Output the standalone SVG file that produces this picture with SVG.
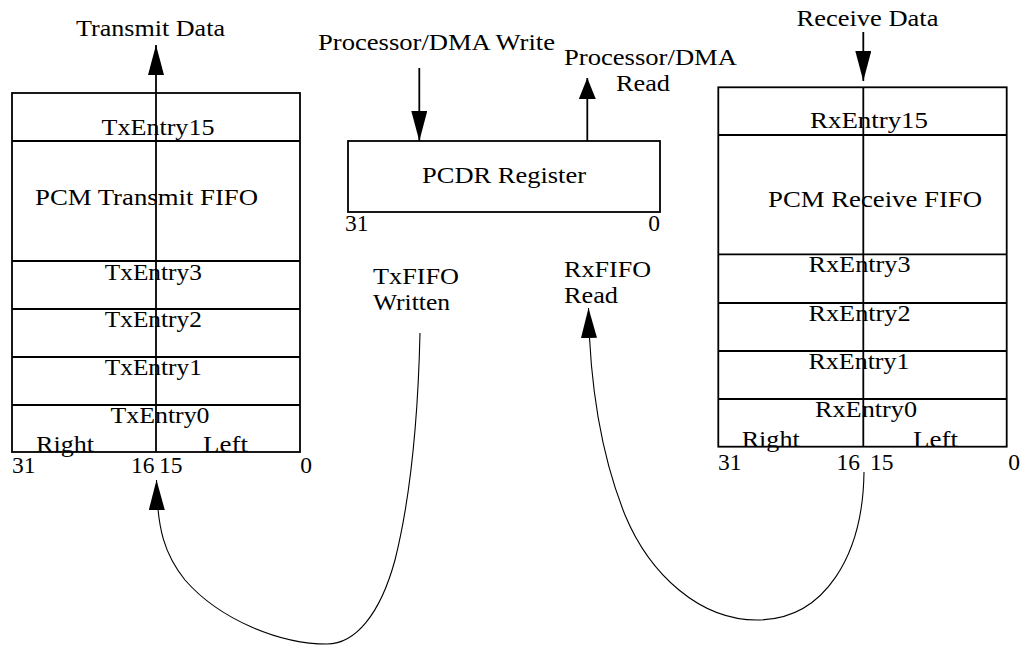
<svg xmlns="http://www.w3.org/2000/svg" width="1023" height="645" viewBox="0 0 1023 645">
<style>
text{font-family:"Liberation Serif","Times New Roman",serif;font-size:23.5px;fill:#000}
.m{text-anchor:middle}
.e{text-anchor:end}
.box{fill:none;stroke:#000;stroke-width:1.8}
.ln{fill:none;stroke:#000;stroke-width:1.8}
.cv{fill:none;stroke:#000;stroke-width:1.1}
</style>
<defs>
<marker id="ah" markerUnits="userSpaceOnUse" viewBox="0 0 30 16" markerWidth="30" markerHeight="16" refX="30" refY="8" orient="auto"><path d="M0,0 L30,8 L0,16 z" fill="#000"/></marker>
<marker id="ahs" markerUnits="userSpaceOnUse" viewBox="0 0 21 17" markerWidth="21" markerHeight="17" refX="21" refY="8.5" orient="auto"><path d="M0,0 L21,8.5 L0,17 z" fill="#000"/></marker>
</defs>
<rect width="1023" height="645" fill="#fff"/>

<g id="tx-fifo">
<rect class="box" x="12" y="93" width="288" height="359"/>
<line class="box" x1="12" y1="141" x2="300" y2="141"/>
<line class="box" x1="12" y1="261" x2="300" y2="261"/>
<line class="box" x1="12" y1="309" x2="300" y2="309"/>
<line class="box" x1="12" y1="357" x2="300" y2="357"/>
<line class="box" x1="12" y1="405" x2="300" y2="405"/>
<text class="m" x="150.5" y="36" textLength="149" lengthAdjust="spacingAndGlyphs">Transmit Data</text>
<text class="m" x="158" y="135" textLength="113" lengthAdjust="spacingAndGlyphs">TxEntry15</text>
<text x="35" y="205" textLength="223" lengthAdjust="spacingAndGlyphs">PCM Transmit FIFO</text>
<text class="m" x="153.3" y="280" textLength="97" lengthAdjust="spacingAndGlyphs">TxEntry3</text>
<text class="m" x="153.3" y="327" textLength="97" lengthAdjust="spacingAndGlyphs">TxEntry2</text>
<text class="m" x="153.3" y="375" textLength="97" lengthAdjust="spacingAndGlyphs">TxEntry1</text>
<text class="m" x="160" y="423" textLength="99" lengthAdjust="spacingAndGlyphs">TxEntry0</text>
<text x="36" y="452" textLength="58" lengthAdjust="spacingAndGlyphs">Right</text>
<text x="203" y="452" textLength="45" lengthAdjust="spacingAndGlyphs">Left</text>
<text x="12" y="473">31</text>
<text class="e" x="154.5" y="473">16</text>
<text x="159" y="473">15</text>
<text class="e" x="312" y="473">0</text>
</g>

<g id="pcdr">
<rect class="box" x="348" y="141" width="312" height="71"/>
<text class="m" x="504" y="183" textLength="164" lengthAdjust="spacingAndGlyphs">PCDR Register</text>
<text x="345" y="231">31</text>
<text class="e" x="660" y="231">0</text>
<text x="318" y="50" textLength="237" lengthAdjust="spacingAndGlyphs">Processor/DMA Write</text>
<text x="564" y="65" textLength="173" lengthAdjust="spacingAndGlyphs">Processor/DMA</text>
<text class="m" x="643" y="91" textLength="54" lengthAdjust="spacingAndGlyphs">Read</text>
<text x="373" y="284" textLength="86" lengthAdjust="spacingAndGlyphs">TxFIFO</text>
<text x="373" y="310" textLength="77" lengthAdjust="spacingAndGlyphs">Written</text>
<text x="564" y="277" textLength="87" lengthAdjust="spacingAndGlyphs">RxFIFO</text>
<text x="564" y="303" textLength="54" lengthAdjust="spacingAndGlyphs">Read</text>
</g>

<g id="rx-fifo">
<rect class="box" x="718.3" y="87.3" width="288.4" height="359.4"/>
<line class="box" x1="718.3" y1="135" x2="1006.7" y2="135"/>
<line class="box" x1="718.3" y1="254.3" x2="1006.7" y2="254.3"/>
<line class="box" x1="718.3" y1="303" x2="1006.7" y2="303"/>
<line class="box" x1="718.3" y1="351" x2="1006.7" y2="351"/>
<line class="box" x1="718.3" y1="399" x2="1006.7" y2="399"/>
<line class="box" x1="863.3" y1="87.3" x2="863.3" y2="446.7"/>
<text class="m" x="867.5" y="26" textLength="142" lengthAdjust="spacingAndGlyphs">Receive Data</text>
<text class="m" x="869" y="128" textLength="118" lengthAdjust="spacingAndGlyphs">RxEntry15</text>
<text x="768" y="207" textLength="214" lengthAdjust="spacingAndGlyphs">PCM Receive FIFO</text>
<text class="m" x="859.5" y="272" textLength="102" lengthAdjust="spacingAndGlyphs">RxEntry3</text>
<text class="m" x="859.5" y="321" textLength="102" lengthAdjust="spacingAndGlyphs">RxEntry2</text>
<text class="m" x="859" y="369" textLength="101" lengthAdjust="spacingAndGlyphs">RxEntry1</text>
<text class="m" x="866" y="417" textLength="102" lengthAdjust="spacingAndGlyphs">RxEntry0</text>
<text x="741.7" y="446.7" textLength="58" lengthAdjust="spacingAndGlyphs">Right</text>
<text x="913" y="446.7" textLength="45" lengthAdjust="spacingAndGlyphs">Left</text>
<text x="718" y="470">31</text>
<text class="e" x="860" y="470">16</text>
<text x="870" y="470">15</text>
<text class="e" x="1020" y="470">0</text>
</g>

<g id="connectors">
<line class="ln" x1="156" y1="452" x2="156" y2="45" marker-end="url(#ah)"/>
<line class="ln" x1="419.3" y1="68" x2="419.3" y2="141" marker-end="url(#ah)"/>
<line class="ln" x1="587.3" y1="141" x2="587.3" y2="78" marker-end="url(#ahs)"/>
<line class="ln" x1="863.3" y1="32" x2="863.3" y2="81" marker-end="url(#ah)"/>
<path class="cv" d="M420,333 C418,420 410,500 395,560 C380,615 355,644 327,644 C280,644 220,620 185,580 C165,555 157,530 156.5,480" marker-end="url(#ah)"/>
<path class="cv" d="M864,472 C863,555 825,620 757,620 C700,620 650,575 625,515 C605,465 590,400 588.5,308" marker-end="url(#ah)"/>
</g>
</svg>
